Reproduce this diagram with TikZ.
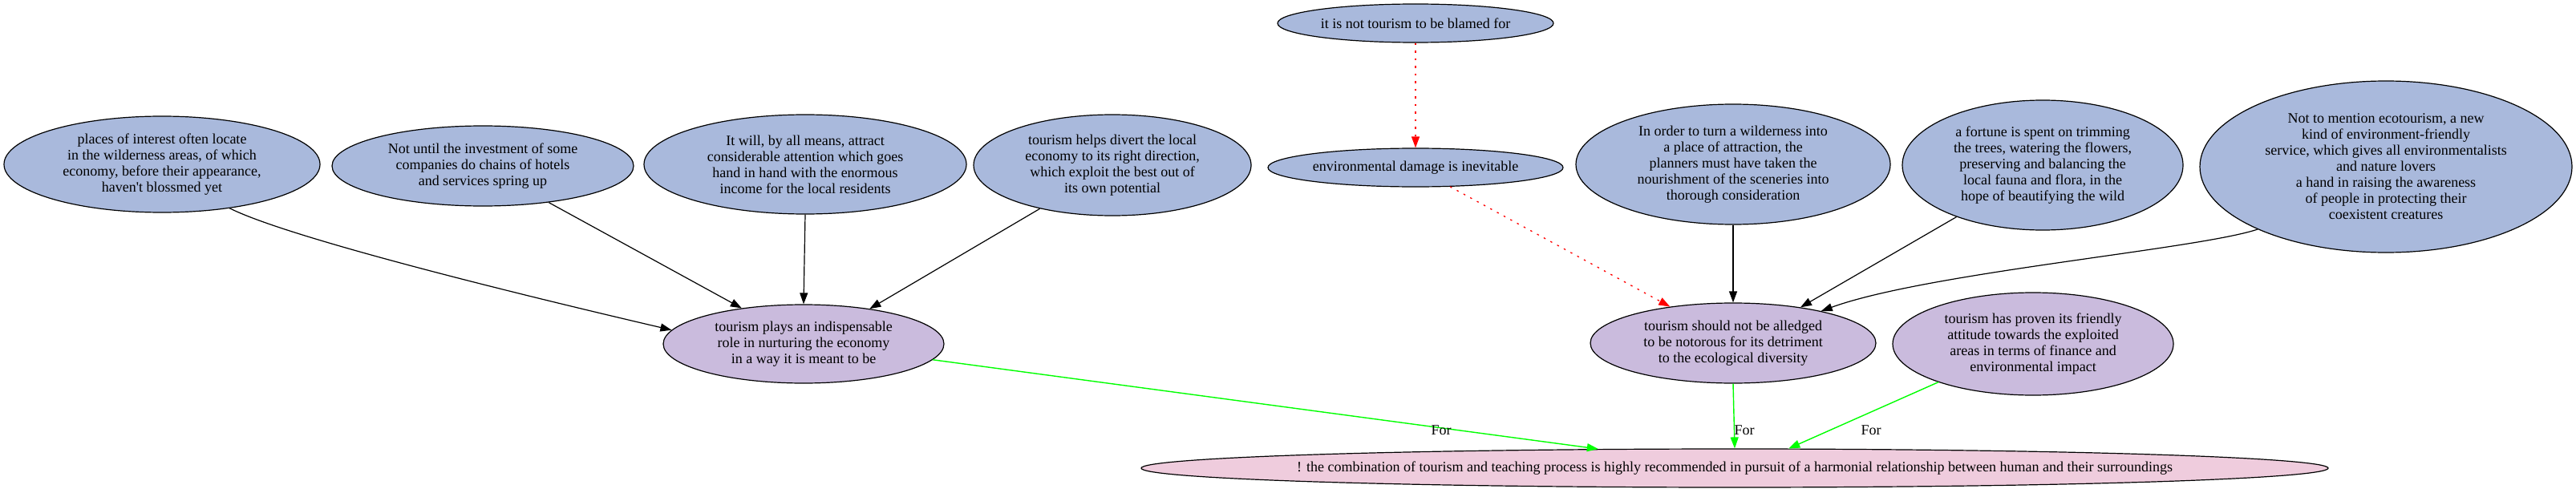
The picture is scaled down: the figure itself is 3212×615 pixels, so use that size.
\documentclass[tikz,border=0pt]{standalone}
\usepackage{fontspec}
\setmainfont{Liberation Serif}[Ligatures=TeXOff]
\usetikzlibrary{shapes.geometric,arrows.meta}
\definecolor{premfill}{RGB}{169,185,220}
\definecolor{claimfill}{RGB}{202,187,221}
\definecolor{conclfill}{RGB}{239,204,221}
\begin{document}
\begin{tikzpicture}[x=1pt,y=-1pt,
  bubble/.style={ellipse, draw=black, line width=1.2pt, inner sep=-300pt, align=center, font=\fontsize{18}{20}\selectfont},
  premise/.style={bubble, fill=premfill},
  claim/.style={bubble, fill=claimfill},
  concl/.style={bubble, fill=conclfill},
  supedge/.style={draw=black, line width=1.2pt, -{Triangle[length=14pt,width=10pt]}},
  attedge/.style={draw=red, line width=1.3pt, dash pattern=on 2.5pt off 7pt, -{Triangle[length=14pt,width=10pt]}},
  foredge/.style={draw=green, line width=1.4pt, -{Triangle[length=14pt,width=10pt]}},
  lbl/.style={font=\fontsize{18}{20}\selectfont, inner sep=0pt}
]
\useasboundingbox (0,0) rectangle (3212,615);

\node[premise, minimum width=394pt, minimum height=120pt] (places) at (202,205)
  {places of interest often locate\\in the wilderness areas, of which\\economy, before their appearance,\\haven't blossmed yet};
\node[premise, minimum width=376pt, minimum height=100pt] (notuntil) at (602,207)
  {Not until the investment of some\\companies do chains of hotels\\and services spring up};
\node[premise, minimum width=402pt, minimum height=124pt] (itwill) at (1004,205)
  {It will, by all means, attract\\considerable attention which goes\\hand in hand with the enormous\\income for the local residents};
\node[premise, minimum width=346pt, minimum height=126pt] (helps) at (1387,206)
  {tourism helps divert the local\\economy to its right direction,\\which exploit the best out of\\its own potential};
\node[premise, minimum width=344pt, minimum height=48pt] (blamed) at (1765,29)
  {it is not tourism to be blamed for};
\node[premise, minimum width=368pt, minimum height=48pt] (envdmg) at (1765,209)
  {environmental damage is inevitable};
\node[premise, minimum width=392pt, minimum height=150pt] (inorder) at (2161,205)
  {In order to turn a wilderness into\\a place of attraction, the\\planners must have taken the\\nourishment of the sceneries into\\thorough consideration};
\node[premise, minimum width=350pt, minimum height=162pt] (fortune) at (2547,206)
  {a fortune is spent on trimming\\the trees, watering the flowers,\\preserving and balancing the\\local fauna and flora, in the\\hope of beautifying the wild};
\node[premise, minimum width=464pt, minimum height=214pt] (mention) at (2975,208)
  {Not to mention ecotourism, a new\\kind of environment-friendly\\service, which gives all environmentalists\\and nature lovers\\a hand in raising the awareness\\of people in protecting their\\coexistent creatures};

\node[claim, minimum width=350pt, minimum height=98pt] (plays) at (1002,429)
  {tourism plays an indispensable\\role in nurturing the economy\\in a way it is meant to be};
\node[claim, minimum width=356pt, minimum height=100pt] (shouldnot) at (2161,428)
  {tourism should not be alledged\\to be notorous for its detriment\\to the ecological diversity};
\node[claim, minimum width=350pt, minimum height=128pt] (hasproven) at (2535,429)
  {tourism has proven its friendly\\attitude towards the exploited\\areas in terms of finance and\\environmental impact};

\node[concl, minimum width=1480pt, minimum height=48pt] (bottom) at (2163,584)
  {! the combination of tourism and teaching process is highly recommended in pursuit of a harmonial relationship between human and their surroundings};

\draw[supedge] (places.-33) .. controls +(80,40) and +(-150,-35) .. (plays.174);
\draw[supedge] (notuntil.-29.5) -- (plays.150.7);
\draw[supedge] (itwill.south) -- (plays.north);
\draw[supedge] (helps.211.8) -- (plays.28.9);
\draw[attedge] (blamed.south) -- (envdmg.north);
\draw[attedge] (envdmg.-29.7) -- (shouldnot.150.6);
\draw[supedge] (inorder.south) -- (shouldnot.north);
\draw[supedge] (fortune.211.2) -- (shouldnot.28.3);
\draw[supedge] (mention.206.3) .. controls +(-75,25) and +(132,-48) .. (shouldnot.20.3);
\draw[foredge] (plays.-7.6) -- (bottom.172.4);
\draw[foredge] (shouldnot.south) -- (bottom.north);
\draw[foredge] (hasproven.202.7) -- (bottom.20.9);

\node[lbl] (for1) at (1797,537) {For};
\node[lbl] (for2) at (2175,537) {For};
\node[lbl] (for3) at (2333,537) {For};
\end{tikzpicture}
\end{document}
